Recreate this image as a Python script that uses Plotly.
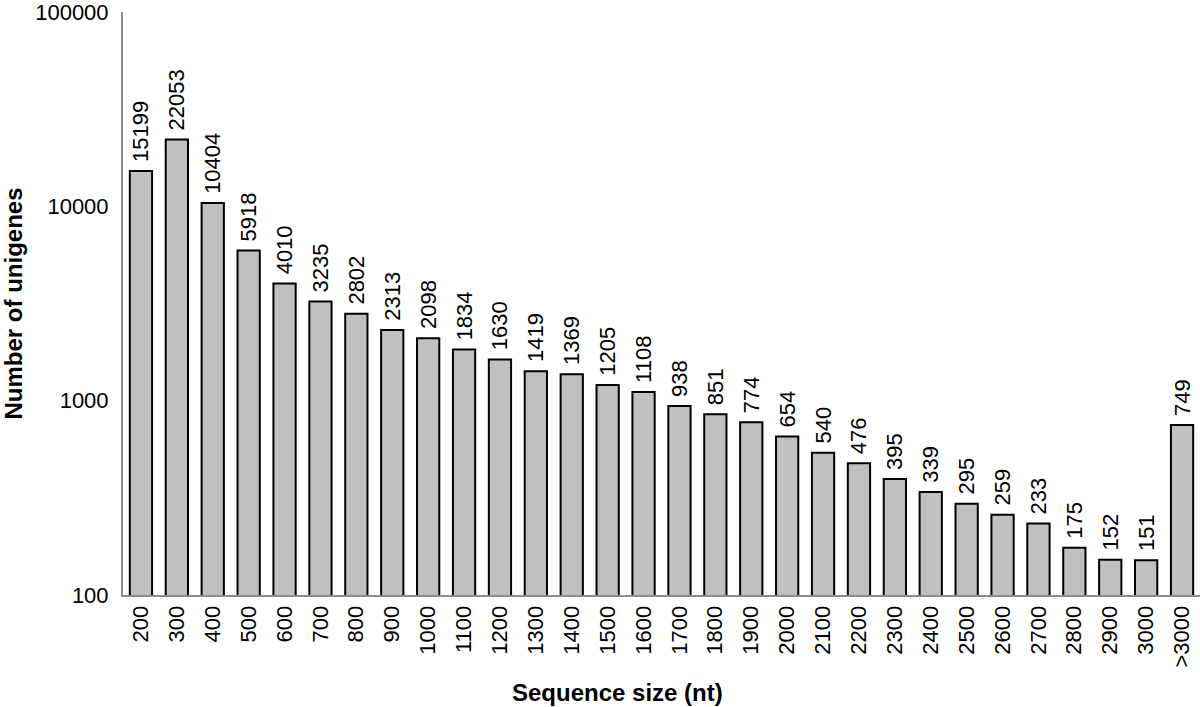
import plotly.graph_objects as go

categories = ["200", "300", "400", "500", "600", "700", "800", "900", "1000", "1100",
              "1200", "1300", "1400", "1500", "1600", "1700", "1800", "1900", "2000",
              "2100", "2200", "2300", "2400", "2500", "2600", "2700", "2800", "2900",
              "3000", ">3000"]
counts = [15199, 22053, 10404, 5918, 4010, 3235, 2802, 2313, 2098, 1834,
          1630, 1419, 1369, 1205, 1108, 938, 851, 774, 654,
          540, 476, 395, 339, 295, 259, 233, 175, 152,
          151, 749]
y_tick_vals = [100, 1000, 10000, 100000]
y_tick_text = ["100", "1000", "10000", "100000"]

FONT = "Liberation Sans, Arial, sans-serif"
W, H = 1200, 707
ML, MR, MT, MB = 123, 0, 12, 112

fig = go.Figure(go.Bar(
    x=categories,
    y=counts,
    marker=dict(color="#c0c0c0", line=dict(color="#000000", width=2)),
    text=["\u00a0" + str(v) for v in counts],
    textposition="outside",
    textangle=-90,
    constraintext="none",
    cliponaxis=False,
    textfont=dict(family=FONT, size=22, color="#000000"),
    hovertemplate="%{x}: %{y}<extra></extra>",
))

pw = W - ML - MR
ph = H - MT - MB

fig.update_layout(
    width=W, height=H,
    paper_bgcolor="white", plot_bgcolor="white",
    margin=dict(l=ML, r=MR, t=MT, b=MB, autoexpand=False),
    bargap=0.38,
    showlegend=False,
    font=dict(family=FONT, size=22, color="#000000"),
    annotations=[
        dict(text="<b>Sequence size (nt)</b>", xref="paper", yref="paper",
             x=(617 - ML) / pw, y=(MT + ph - 692) / ph, xanchor="center", yanchor="middle",
             showarrow=False, font=dict(family=FONT, size=24, color="#000000")),
        dict(text="<b>Number of unigenes</b>", xref="paper", yref="paper",
             x=(13 - ML) / pw, y=0.5, xanchor="center", yanchor="middle", textangle=-90,
             showarrow=False, font=dict(family=FONT, size=24, color="#000000")),
    ],
)
fig.update_xaxes(
    type="category",
    tickangle=-90,
    automargin=False,
    showline=True, linecolor="#8c8c8c", linewidth=2,
    showgrid=False, ticks="",
    tickfont=dict(family=FONT, size=22, color="#000000"),
)
fig.update_yaxes(
    type="log", range=[2, 5],
    automargin=False,
    tickvals=y_tick_vals, ticktext=y_tick_text,
    ticklabeloverflow="allow",
    showline=True, linecolor="#8c8c8c", linewidth=2,
    showgrid=False, ticks="", zeroline=False,
    ticklabelstandoff=8,
    tickfont=dict(family=FONT, size=22, color="#000000"),
)

fig.write_html(
    "out.html",
    config={"displayModeBar": False},
    post_script="document.body.style.margin='0px'; document.body.style.overflow='hidden';",
)
